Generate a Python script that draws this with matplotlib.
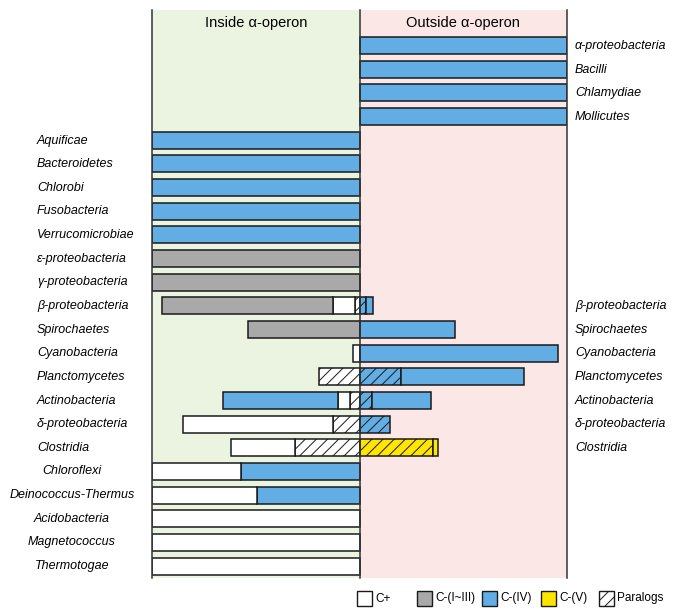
import matplotlib
matplotlib.use("Agg")
import matplotlib.pyplot as plt
from matplotlib.patches import Rectangle

plt.rcParams["font.family"] = ["Liberation Sans", "DejaVu Sans"]
plt.rcParams["hatch.linewidth"] = 0.7

# ── data ──────────────────────────────────────────────────────────────────────
taxa = [
    "α-proteobacteria", "Bacilli", "Chlamydiae", "Mollicutes",
    "Aquificae", "Bacteroidetes", "Chlorobi", "Fusobacteria", "Verrucomicrobiae",
    "ε-proteobacteria", "γ-proteobacteria", "β-proteobacteria", "Spirochaetes",
    "Cyanobacteria", "Planctomycetes", "Actinobacteria", "δ-proteobacteria",
    "Clostridia", "Chloroflexi", "Deinococcus-Thermus", "Acidobacteria",
    "Magnetococcus", "Thermotogae",
]

# segments listed from the operon boundary outwards: (class, % of panel)
inside = [
    [], [], [], [],
    [("C-(IV)", 100)], [("C-(IV)", 100)], [("C-(IV)", 100)],
    [("C-(IV)", 100)], [("C-(IV)", 100)],
    [("C-(I~III)", 100)], [("C-(I~III)", 100)],
    [("Paralogs", 2.3), ("C+", 10.5), ("C-(I~III)", 82.2)],
    [("C-(I~III)", 53.7)],
    [("C+", 3.0)],
    [("Paralogs", 19.6)],
    [("Paralogs", 4.7), ("C+", 5.6), ("C-(IV)", 55.4)],
    [("Paralogs", 12.8), ("C+", 72.5)],
    [("Paralogs", 30.9), ("C+", 31.2)],
    [("C-(IV)", 57.3), ("C+", 42.7)],
    [("C-(IV)", 49.5), ("C+", 50.5)],
    [("C+", 100)], [("C+", 100)], [("C+", 100)],
]

outside = [
    [("C-(IV)", 100)], [("C-(IV)", 100)], [("C-(IV)", 100)], [("C-(IV)", 100)],
    [], [], [], [], [], [], [],
    [("C-(IV)/P", 3.0), ("C-(IV)", 3.5)],
    [("C-(IV)", 46.1)],
    [("C-(IV)", 95.8)],
    [("C-(IV)/P", 19.8), ("C-(IV)", 59.4)],
    [("C-(IV)/P", 6.2), ("C-(IV)", 28.2)],
    [("C-(IV)/P", 14.5)],
    [("C-(V)/P", 35.6), ("C-(V)", 2.4)],
    [], [], [], [], [],
]

legend_classes = ["C+", "C-(I~III)", "C-(IV)", "C-(V)", "Paralogs"]

COLOURS = {
    "C+": "white",
    "C-(I~III)": "#a9a9a9",
    "C-(IV)": "#62ade3",
    "C-(V)": "#ffe500",
    "Paralogs": "white",
}
EDGE = "#1a1a1a"


def style(cls):
    hatched = cls.endswith("/P") or cls == "Paralogs"
    base = cls.replace("/P", "")
    return COLOURS[base], ("///" if hatched else None)


# ── figure ────────────────────────────────────────────────────────────────────
W, H = 685, 615
fig = plt.figure(figsize=(W / 100, H / 100), dpi=100)
x0, x1, ytop, ybot = 152, 567, 10, 578
ax = fig.add_axes([x0 / W, 1 - ybot / H, (x1 - x0) / W, (ybot - ytop) / H])
ax.set_xlim(-100, 100)
ax.set_ylim(22.5, -1.5)
ax.axis("off")

ax.axvspan(-100, 0, color="#ebf4e1", zorder=0)
ax.axvspan(0, 100, color="#fce7e7", zorder=0)
for xv in (-100, 0, 100):
    ax.axvline(xv, color="#333333", lw=1.1, zorder=5, clip_on=False)

ax.text(-50, -0.95, "Inside α-operon", ha="center", va="center", fontsize=10.5)
ax.text(50, -0.95, "Outside α-operon", ha="center", va="center", fontsize=10.5)

bar_h = 0.72
for i, name in enumerate(taxa):
    pos = 0
    for cls, length in inside[i]:
        fc, hatch = style(cls)
        ax.barh(i, -length, left=-pos, height=bar_h, color=fc, edgecolor=EDGE,
                linewidth=1.1, hatch=hatch, zorder=3)
        pos += length
    pos = 0
    for cls, length in outside[i]:
        fc, hatch = style(cls)
        ax.barh(i, length, left=pos, height=bar_h, color=fc, edgecolor=EDGE,
                linewidth=1.1, hatch=hatch, zorder=3)
        pos += length

    ytxt = 1 - (46 + i * (566 - 46) / 22) / H
    if inside[i]:
        if i >= 18:
            fig.text(72 / W, ytxt, name, ha="center", va="center",
                     fontsize=9, style="italic")
        else:
            fig.text(37 / W, ytxt, name, ha="left", va="center",
                     fontsize=9, style="italic")
    if outside[i]:
        fig.text(575 / W, ytxt, name, ha="left", va="center",
                 fontsize=9, style="italic")

# legend along the bottom
lx = [357, 417, 482, 541, 599]
for cls, x in zip(legend_classes, lx):
    fc, hatch = style(cls)
    fig.add_artist(Rectangle((x / W, 1 - 606 / H), 15 / W, 15 / H,
                             facecolor=fc, edgecolor=EDGE, linewidth=1.0,
                             hatch=hatch, transform=fig.transFigure))
    fig.text((x + 18) / W, 1 - 598.5 / H, cls, ha="left", va="center",
             fontsize=8.5)

fig.savefig("out.png", dpi=100)
